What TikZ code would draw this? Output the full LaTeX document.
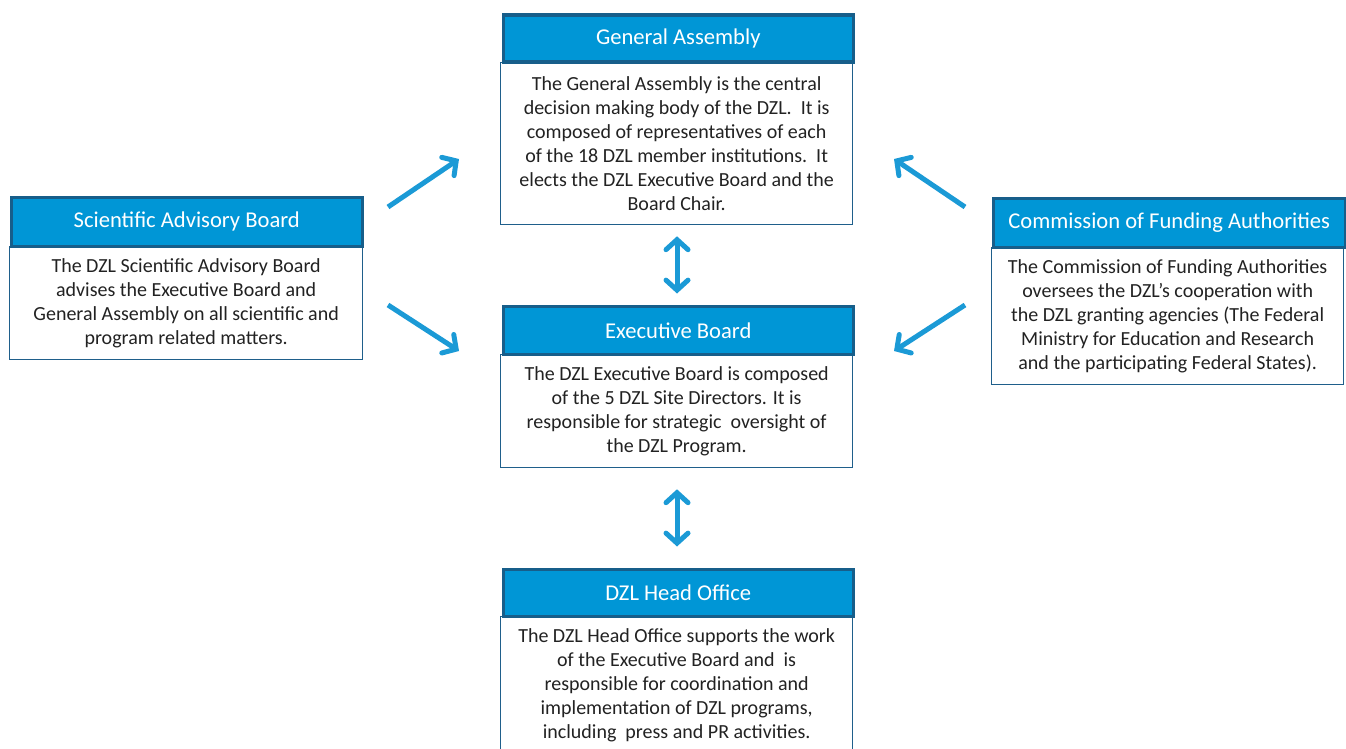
\documentclass[tikz,border=0pt]{standalone}
\usepackage{fontspec}
\setmainfont{Carlito}
\usetikzlibrary{arrows.meta}
\definecolor{hdrfill}{HTML}{0096D6}
\definecolor{hdrline}{HTML}{175E8A}
\definecolor{bodyline}{HTML}{1F5F8B}
\definecolor{arrcol}{HTML}{1B9AD6}
\definecolor{txt}{HTML}{222222}
\tikzset{
  hdr/.style={draw=hdrline, line width=3.5pt, fill=hdrfill, text=white, inner sep=0pt,
    font=\fontsize{22.6}{27}\selectfont, minimum height=48pt, anchor=north west},
  bodybox/.style={draw=bodyline, line width=1.3pt, fill=white, text=txt, inner sep=0pt,
    align=center, font=\fontsize{20}{24}\selectfont, anchor=north west},
  arr/.style={draw=arrcol, line width=5pt, {Straight Barb[length=10pt,width=22pt,line cap=round]}-{Straight Barb[length=10pt,width=22pt,line cap=round]}},
  arrone/.style={draw=arrcol, line width=5pt, -{Straight Barb[length=10pt,width=22pt,line cap=round]}}
}
\begin{document}
\begin{tikzpicture}[x=1pt,y=-1pt]
\useasboundingbox (0,0) rectangle (1346,749);
\clip (0,0) rectangle (1346,749);
% General Assembly
\node[bodybox, minimum width=352pt, minimum height=162pt] (gab) at (500,62)
 {The General Assembly is the central\\decision making body of the DZL.\ \ It is\\composed of representatives of each\\of the 18 DZL member institutions.\ \ It\\elects the DZL Executive Board and the\\Board Chair.};
\node[hdr, minimum width=350pt, minimum height=47pt] (gah) at (501.5,13.5) {\raisebox{-2pt}{General Assembly}};
% Executive Board
\node[bodybox, minimum width=352pt, minimum height=113pt] (ebb) at (500,354)
 {The DZL Executive Board is composed\\of the 5 DZL Site Directors. It is\\responsible for strategic\ \ oversight of\\the DZL Program.};
\node[hdr, minimum width=350pt, minimum height=48pt] (ebh) at (501.5,304.5) {\raisebox{-2pt}{Executive Board}};
% Head Office
\node[bodybox, minimum width=352pt, minimum height=138pt] (hob) at (500,616)
 {The DZL Head Office supports the work\\of the Executive Board and\ \ is\\responsible for coordination and\\implementation of DZL programs,\\including\ \ press and PR activities.};
\node[hdr, minimum width=350pt, minimum height=47pt] (hoh) at (501.5,567.5) {\raisebox{-2pt}{DZL Head Office}};
% Scientific Advisory Board
\node[bodybox, minimum width=353pt, minimum height=113pt] (sabb) at (9,246)
 {The DZL Scientific Advisory Board\\advises the Executive Board and\\General Assembly on all scientific and\\program related matters.};
\node[hdr, minimum width=351pt, minimum height=49pt] (sabh) at (9.5,195.5) {\raisebox{-2pt}{Scientific Advisory Board}};
% Commission of Funding Authorities
\node[bodybox, minimum width=352pt, minimum height=137pt] (cfab) at (991,247)
 {The Commission of Funding Authorities\\oversees the DZL’s cooperation with\\the DZL granting agencies (The Federal\\Ministry for Education and Research\\and the participating Federal States).};
\node[hdr, minimum width=352pt, minimum height=49pt] (cfah) at (991.5,196.5) {\raisebox{-2pt}{Commission of Funding Authorities}};
% arrows
\coordinate (l1s) at (388,207);
\coordinate (l1e) at (459,159);
\coordinate (l2s) at (388,305);
\coordinate (l2e) at (459,351);
\coordinate (r1s) at (965,207);
\coordinate (r1e) at (894,159);
\coordinate (r2s) at (965,305);
\coordinate (r2e) at (894,351);
\draw[arrone] (l1s) -- (l1e);
\draw[arrone] (l2s) -- (l2e);
\draw[arrone] (r1s) -- (r1e);
\draw[arrone] (r2s) -- (r2e);
\draw[arr, shorten <=11pt, shorten >=11pt] (gab.south -| 677,0) -- (ebh.north -| 677,0);
\draw[arr, shorten <=21pt, shorten >=21pt] (ebb.south -| 677,0) -- (hoh.north -| 677,0);
\end{tikzpicture}
\end{document}
